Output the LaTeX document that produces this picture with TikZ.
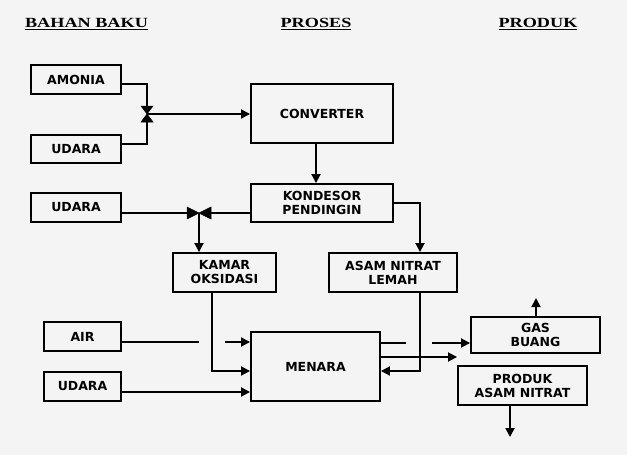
\documentclass[tikz,border=0pt]{standalone}
\usepackage{fontspec}
\usepackage{graphicx}
\setmainfont{DejaVu Sans}
\newfontfamily\headfont{Liberation Serif}
\usetikzlibrary{arrows.meta}
\definecolor{bg}{HTML}{F4F4F4}
\tikzset{
  box/.style={draw, line width=1.9pt, inner sep=0pt, align=center,
    font=\fontsize{12.5}{14}\selectfont\bfseries},
  conn/.style={line width=1.8pt},
  arr/.style={conn, -{Triangle[length=9pt,width=9pt]}},
  head/.style={inner sep=0pt, font=\headfont\fontsize{14}{15}\selectfont\bfseries},
  valve/.style={fill=black, draw=black, line width=0.5pt}
}
\newcommand{\hdr}[1]{\scalebox{1.3}[1]{\underline{#1}}}
\begin{document}
\begin{tikzpicture}[x=1pt,y=-1pt]
\fill[bg] (0,0) rectangle (627,455);
\useasboundingbox (0,0) rectangle (627,455);

% headers
\node[head] (h1) at (86.5,24) {\hdr{BAHAN BAKU}};
\node[head] (h2) at (316,24) {\hdr{PROSES}};
\node[head] (h3) at (538,24) {\hdr{PRODUK}};

% boxes
\node[box, minimum width=90pt, minimum height=29pt] (amonia) at (76,79.5) {AMONIA};
\node[box, minimum width=90pt, minimum height=28pt] (udara1) at (76,149) {UDARA};
\node[box, minimum width=90pt, minimum height=29pt] (udara2) at (76,207.5) {UDARA};
\node[box, minimum width=142pt, minimum height=59pt] (converter) at (322,113.5) {CONVERTER};
\node[box, minimum width=142pt, minimum height=38pt] (kondesor) at (322,203) {KONDESOR\\PENDINGIN};
\node[box, minimum width=103pt, minimum height=39pt] (kamar) at (224.5,272.5) {KAMAR\\OKSIDASI};
\node[box, minimum width=128pt, minimum height=39pt] (asam) at (393,272.5) {ASAM NITRAT\\LEMAH};
\node[box, minimum width=77pt, minimum height=29pt] (air) at (82.5,336.5) {AIR};
\node[box, minimum width=77pt, minimum height=29pt] (udara3) at (82.5,386.5) {UDARA};
\node[box, minimum width=129pt, minimum height=69pt] (menara) at (315.5,366.5) {MENARA};
\node[box, minimum width=129pt, minimum height=36pt] (gas) at (535.5,335) {GAS\\BUANG};
\node[box, minimum width=129pt, minimum height=39pt] (produk) at (522.5,385.5) {PRODUK\\ASAM NITRAT};

% valve coordinates
\coordinate (v1) at (147,114);
\coordinate (v1top) at (147,106);
\coordinate (v1bot) at (147,122);
\coordinate (v2) at (199,213);
\coordinate (v2left) at (187,213);
\coordinate (v2right) at (211,213);
\coordinate (airend) at (199,342);
\coordinate (airstart) at (225,342);
\coordinate (menend) at (406,343);
\coordinate (menstart) at (432,343);
\coordinate (gasout) at (536,298);
\coordinate (prodout) at (510,437);

% valves
\fill[valve] (141,106) -- (153,106) -- (v1) -- cycle;
\fill[valve] (141,122) -- (153,122) -- (v1) -- cycle;
\fill[valve] (187,207) -- (187,219) -- (v2) -- cycle;
\fill[valve] (211,207) -- (211,219) -- (v2) -- cycle;

% connectors
\draw[conn] ([yshift=-4.5pt]amonia.east) -| (v1top);
\draw[conn] ([yshift=5pt]udara1.east) -| (v1bot);
\draw[arr] (v1) -- (v1 -| converter.west);
\draw[arr] ([xshift=-6pt]converter.south) -- ([xshift=-6pt]kondesor.north);
\draw[conn] (v2right -| kondesor.west) -- (v2right);
\draw[conn] (v2left -| udara2.east) -- (v2left);
\draw[arr] (v2) -- (v2 |- kamar.north);
\draw[arr] (kondesor.east) -| ([xshift=27pt]asam.north);
\draw[arr] ([xshift=-12.5pt]kamar.south) |- ([yshift=-4.5pt]menara.west);
\draw[conn] (airend -| air.east) -- (airend);
\draw[arr] (airstart) -- (airstart -| menara.west);
\draw[arr] ([yshift=-5.5pt]udara3.east) -- ([yshift=-5.5pt]udara3.east -| menara.west);
\draw[conn] (menend -| menara.east) -- (menend);
\draw[arr] (menstart) -- (menstart -| gas.west);
\draw[arr] ([xshift=27pt]asam.south) |- ([yshift=-4.5pt]menara.east);
\draw[arr] ([yshift=9.5pt]menara.east) -- ([yshift=9.5pt]menara.east -| produk.west);
\draw[arr] (gasout |- gas.north) -- (gasout);
\draw[arr] (prodout |- produk.south) -- (prodout);
\end{tikzpicture}
\end{document}
